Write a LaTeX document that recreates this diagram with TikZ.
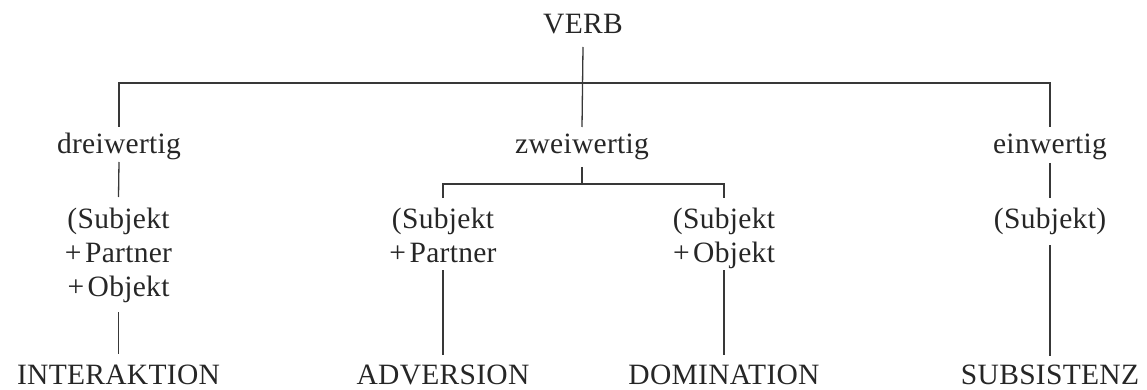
\documentclass[tikz,border=0pt]{standalone}
\usepackage{fontspec}
\setmainfont{Liberation Serif}[LetterSpace=1]
\definecolor{ink}{HTML}{262626}
\definecolor{rule}{HTML}{383838}
\newcommand{\pl}{+\hspace{0.12em}}
\begin{document}
\begin{tikzpicture}[x=1pt,y=-1pt,
  lbl/.style={anchor=base,inner sep=0pt,outer sep=0pt,text=ink,
    font=\fontsize{29.5}{34}\selectfont},
  conn/.style={draw=rule,line width=1.3pt}]
\useasboundingbox (0,0) rectangle (1147,390);
% nodes
\node[lbl] (verb) at (583,34) {VERB};
\node[lbl] (drei) at (119,154) {dreiwertig};
\node[lbl] (zwei) at (582,154) {zweiwertig};
\node[lbl] (ein)  at (1050,154) {einwertig};
\node[lbl] (s1) at (118.5,228) {\begin{tabular}[t]{@{}c@{}}(Subjekt\\ \pl Partner\\ \pl Objekt\end{tabular}};
\node[lbl] (s2) at (443,228) {\begin{tabular}[t]{@{}c@{}}(Subjekt\\ \pl Partner\end{tabular}};
\node[lbl] (s3) at (724,228) {\begin{tabular}[t]{@{}c@{}}(Subjekt\\ \pl Objekt\end{tabular}};
\node[lbl] (s4) at (1050,228) {(Subjekt)};
\node[lbl] (inter) at (118.5,384) {INTERAKTION};
\node[lbl] (adv) at (443,384) {ADVERSION};
\node[lbl] (dom) at (724,384) {DOMINATION};
\node[lbl] (sub) at (1050,384) {SUBSISTENZ};
% connectors
\draw[conn] ([yshift=-13pt]verb.base) -- ([yshift=27pt]zwei.base);
\draw[conn] ([yshift=27pt]drei.base) |- ([yshift=71pt]zwei.base) -| ([yshift=27pt]ein.base);
\draw[conn] ([yshift=-8pt]drei.base) -- ([yshift=31pt]s1.base);
\draw[conn] ([yshift=-13pt]zwei.base) -- ([yshift=-30pt]zwei.base);
\draw[conn] ([yshift=30pt]s2.base) |- ([yshift=-30pt]zwei.base) -| ([yshift=30pt]s3.base);
\draw[conn] ([yshift=-9pt]ein.base) -- ([yshift=30pt]s4.base);
\draw[conn] ([yshift=-84pt]s1.base) -- ([yshift=30pt]inter.base);
\draw[conn] ([yshift=-42pt]s2.base) -- ([yshift=29pt]adv.base);
\draw[conn] ([yshift=-42pt]s3.base) -- ([yshift=29pt]dom.base);
\draw[conn] ([yshift=-17pt]s4.base) -- ([yshift=28pt]sub.base);
\end{tikzpicture}
\end{document}
